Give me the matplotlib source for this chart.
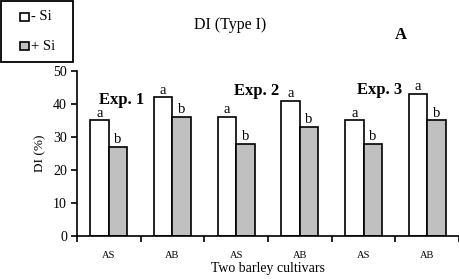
import matplotlib
matplotlib.use("Agg")
import matplotlib.pyplot as plt
import numpy as np
from matplotlib.patches import Rectangle

plt.rcParams['font.family'] = ['Liberation Serif', 'DejaVu Serif']

cultivars = ["AS", "AB", "AS", "AB", "AS", "AB"]
minus_si = [35, 42, 36, 41, 35, 43]
plus_si = [27, 36, 28, 33, 28, 35]
letters_minus = ["a", "a", "a", "a", "a", "a"]
letters_plus = ["b", "b", "b", "b", "b", "b"]
exp_labels = ["Exp. 1", "Exp. 2", "Exp. 3"]
series_names = ["- Si", "+ Si"]
series_colors = ["white", "#c0c0c0"]

W, H = 460, 279
fig = plt.figure(figsize=(W / 100, H / 100), dpi=100)
ax = fig.add_axes([0.167, 0.154, 0.831, 0.592])

x = np.arange(len(cultivars))
w = 0.29
ax.bar(x - w/2, minus_si, w, color=series_colors[0], edgecolor="black", linewidth=1.2)
ax.bar(x + w/2, plus_si, w, color=series_colors[1], edgecolor="black", linewidth=1.2)

for i in range(len(cultivars)):
    ax.text(x[i] - w/2, minus_si[i] + 0.2, letters_minus[i], ha="center", va="bottom", fontsize=10.5)
    ax.text(x[i] + w/2, plus_si[i] + 0.2, letters_plus[i], ha="center", va="bottom", fontsize=10.5)

exp_pos = [(0.21, 41.2), (2.33, 43.9), (4.26, 44.2)]
for lab, (px, py) in zip(exp_labels, exp_pos):
    ax.text(px, py, lab, ha="center", va="center", fontsize=12, fontweight="bold")

ax.set_xlim(-0.5, len(cultivars) - 0.5)
ax.set_ylim(0, 50)
ax.set_yticks([0, 10, 20, 30, 40, 50])
ax.set_xticks(np.arange(-0.5, len(cultivars), 1.0))
ax.set_xticklabels([])
ax.set_xticks(x, minor=True)
ax.set_xticklabels(cultivars, minor=True, fontsize=7.5)
ax.tick_params(axis="x", which="minor", length=0, pad=11)
ax.tick_params(axis="x", which="major", length=4, width=1.2, direction="out")
ax.tick_params(axis="y", length=4, width=1.2, labelsize=10, pad=3)
ax.spines["top"].set_visible(False)
ax.spines["right"].set_visible(False)
ax.spines["left"].set_linewidth(1.2)
ax.spines["bottom"].set_linewidth(1.2)
ax.set_ylabel("DI (%)", fontsize=9.5, labelpad=5)
ax.set_xlabel("Two barley cultivars", fontsize=10, labelpad=1)

fig.text(0.5, 0.91, "DI (Type I)", ha="center", va="center", fontsize=11.5)
fig.text(0.872, 0.875, "A", ha="center", va="center", fontsize=12, fontweight="bold")

# legend box drawn by hand (pixel layout converted to figure fractions)
def fx(px):
    return px / W
def fy(py):
    return 1 - py / H

fig.patches.append(Rectangle((fx(1), fy(62)), fx(72), 61 / H, transform=fig.transFigure,
                             facecolor="white", edgecolor="black", linewidth=1.3))
for name, col, cy in zip(series_names, series_colors, [17, 46]):
    fig.patches.append(Rectangle((fx(20), fy(cy + 4)), fx(9), 8 / H, transform=fig.transFigure,
                                 facecolor=col, edgecolor="black", linewidth=1.2))
    fig.text(fx(31), fy(cy), name, ha="left", va="center", fontsize=10.5)

fig.savefig("out.png", dpi=100)
